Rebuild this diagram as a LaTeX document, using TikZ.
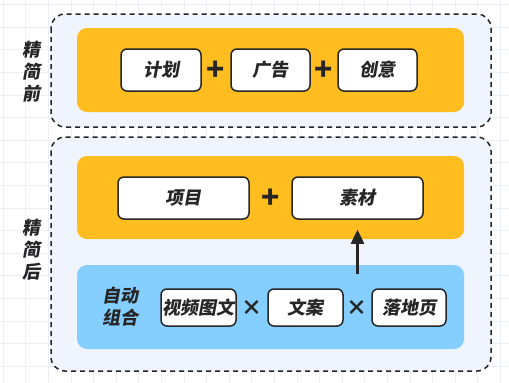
\documentclass[tikz,border=0pt]{standalone}
\usepackage{fontspec}
\newfontfamily\cjk{Noto Sans CJK SC}[FakeSlant=0.18]
\newfontfamily\cjkup{Noto Sans CJK SC}
\usetikzlibrary{arrows.meta,positioning}
\definecolor{frame}{HTML}{EFF4FD}
\definecolor{amber}{HTML}{FFBD1F}
\definecolor{sky}{HTML}{84CFFF}
\definecolor{ink}{HTML}{262626}
\definecolor{gridc}{HTML}{ECEFFA}
\tikzset{
  sc/.style={x=1pt,y=-1pt,line width=1.5pt,font=\cjk\bfseries\fontsize{18}{21}\selectfont},
  stage/.style={draw=ink,dash pattern=on 5pt off 4pt,fill=frame,rounded corners=14pt},
  item/.style={draw=ink,fill=white,rounded corners=6pt,inner sep=0pt,text=ink},
  op/.style={font=\cjkup\bfseries\fontsize{30}{30}\selectfont,text=ink,inner sep=0pt},
  times/.style={font=\cjkup\bfseries\fontsize{21}{21}\selectfont,text=ink,inner sep=0pt},
  side/.style={align=center,text=ink,font=\cjk\bfseries\fontsize{18}{22}\selectfont}
}

\begin{document}
\begin{tikzpicture}[sc]
  \useasboundingbox (0,0) rectangle (509,383);
  \fill[white] (0,0) rectangle (509,383);
  \foreach \i in {0,...,22}{\draw[gridc,line width=.6pt] (3+\i*22.6,0)--++(0,383);}
  \foreach \j in {0,...,16}{\draw[gridc,line width=.6pt] (0,4.5+\j*22.6)--++(509,0);}
  % before
  \draw[stage] (51,14) rectangle (491,127);
  \fill[amber,rounded corners=10pt] (77,28) rectangle (464,112);
  \node[side] (pre) at (32,72) {精\\简\\前};
  \node[item,minimum width=80pt,minimum height=42pt] (plan) at (161,70) {计划};
  \node[item,minimum width=79pt,minimum height=42pt] (ad) at (270.5,70) {广告};
  \node[item,minimum width=79pt,minimum height=42pt] (idea) at (377.5,70) {创意};
  \node[op] (p1) at (216,71) {+};
  \node[op] (p2) at (324,71) {+};
  % after
  \draw[stage] (51,137) rectangle (491,371);
  \fill[amber,rounded corners=10pt] (77,156) rectangle (464,239);
  \fill[sky,rounded corners=10pt] (77,265) rectangle (464,349);
  \node[side] (post) at (32,250) {精\\简\\后};
  \node[item,minimum width=131pt,minimum height=42pt] (proj) at (183.5,198) {项目};
  \node[item,minimum width=131pt,minimum height=42pt] (sucai) at (357.5,198) {素材};
  \node[op] (p3) at (271,199) {+};
  \node[side] (auto) at (120,307) {自动\\组合};
  \node[item,minimum width=75pt,minimum height=37pt] (video) at (198.5,307.5) {视频图文};
  \node[item,minimum width=75pt,minimum height=37pt] (copy) at (305.5,307.5) {文案};
  \node[item,minimum width=74pt,minimum height=37pt] (land) at (409,307.5) {落地页};
  \node[times] (x1) at (252,308) {×};
  \node[times] (x2) at (357,308) {×};
  \coordinate (tail) at (357.5,274);
  \draw[ink,line width=2.5pt,-{Triangle[width=13pt,length=14pt]},shorten >=10pt] (tail)--(sucai.south);
\end{tikzpicture}
\end{document}
